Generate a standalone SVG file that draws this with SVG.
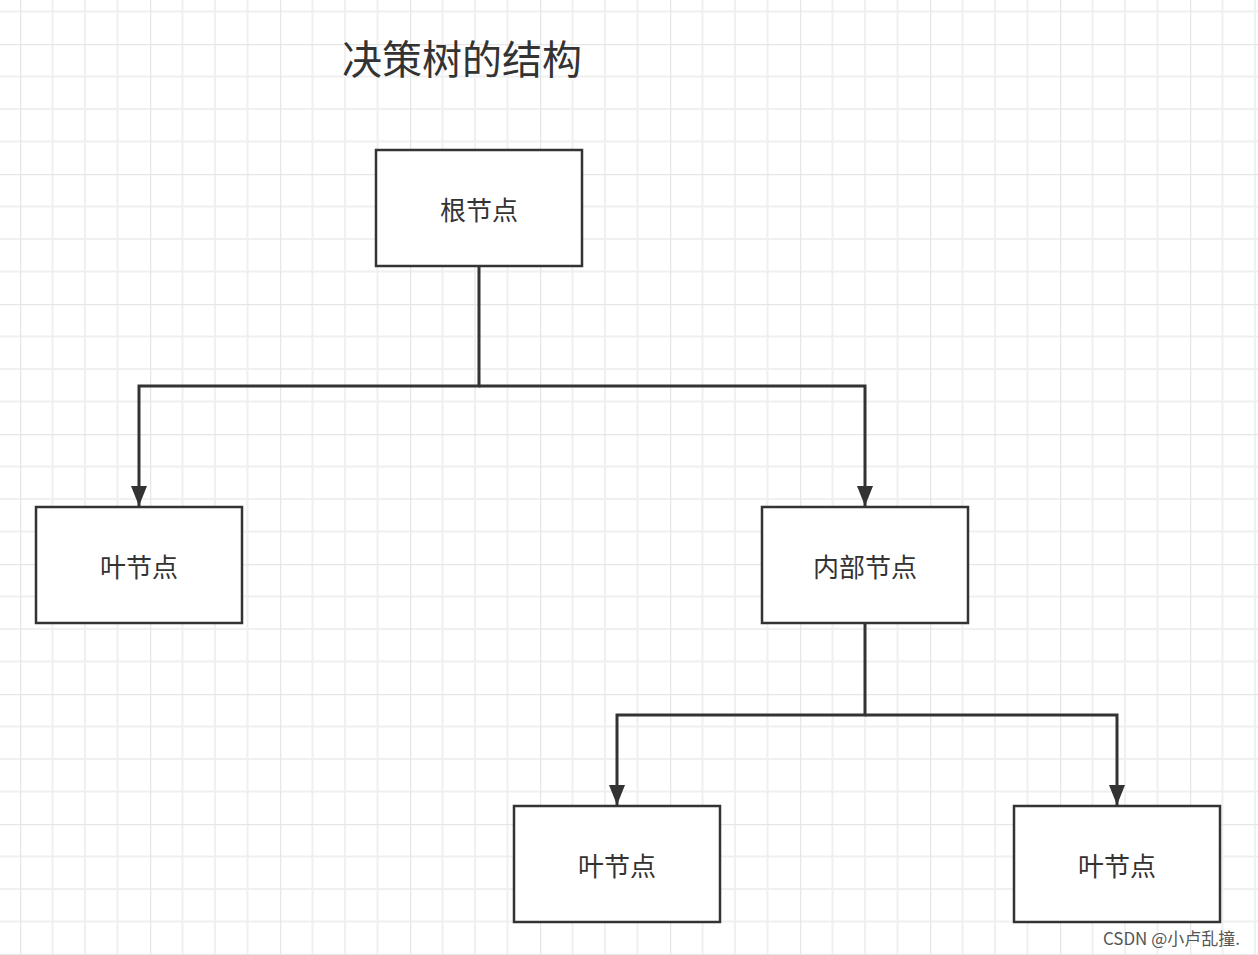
<svg xmlns="http://www.w3.org/2000/svg" width="1258" height="955" viewBox="0 0 1258 955">
<style>
.n{fill:#fff;stroke:#333;stroke-width:2.5}
.t{font-family:"Noto Sans CJK SC","Noto Sans",sans-serif;font-size:26px;fill:#333;text-anchor:middle;dominant-baseline:central}
.c{fill:none;stroke:#333;stroke-width:3}
</style>
<defs>
<pattern id="g" x="20" y="44" width="130" height="130" patternUnits="userSpaceOnUse">
<path d="M32.5 0V130M65 0V130M97.5 0V130M0 32.5H130M0 65H130M0 97.5H130" stroke="#f0f0f0" stroke-width="2" fill="none"/>
<path d="M0 0V130M0 0H130" stroke="#e6e6e6" stroke-width="2.5" fill="none"/>
</pattern>
<marker id="a" markerWidth="8" markerHeight="10" refX="7" refY="5" orient="auto" markerUnits="userSpaceOnUse" viewBox="0 0 8 10"><path d="M0 0L8 5L0 10z" fill="#333"/></marker>
<marker id="b" viewBox="0 0 10 10" refX="10" refY="5" markerWidth="20" markerHeight="20" orient="auto" markerUnits="userSpaceOnUse"><path d="M0 1L10 5L0 9z" fill="#333"/></marker>
</defs>
<rect width="1258" height="955" fill="#fff"/>
<rect width="1258" height="955" fill="url(#g)"/>
<text x="462" y="57" font-family="'Noto Sans CJK SC',sans-serif" font-size="40" fill="#333" text-anchor="middle" dominant-baseline="central">决策树的结构</text>
<g id="connectors">
<path class="c" d="M479 266V386H139V506" marker-end="url(#b)"/>
<path class="c" d="M479 386H865V506" marker-end="url(#b)"/>
<path class="c" d="M865 623V715H617V805" marker-end="url(#b)"/>
<path class="c" d="M865 715H1117V805" marker-end="url(#b)"/>
</g>
<g id="root"><rect class="n" x="376" y="150" width="206" height="116"/><text class="t" x="479" y="208">根节点</text></g>
<g id="leaf1"><rect class="n" x="36" y="507" width="206" height="116"/><text class="t" x="139" y="565">叶节点</text></g>
<g id="internal"><rect class="n" x="762" y="507" width="206" height="116"/><text class="t" x="865" y="565">内部节点</text></g>
<g id="leaf2"><rect class="n" x="514" y="806" width="206" height="116"/><text class="t" x="617" y="864">叶节点</text></g>
<g id="leaf3"><rect class="n" x="1014" y="806" width="206" height="116"/><text class="t" x="1117" y="864">叶节点</text></g>
<text x="1240" y="937" font-family="'Noto Sans CJK SC',sans-serif" font-size="17" fill="#555" text-anchor="end" dominant-baseline="central">CSDN @小卢乱撞.</text>
</svg>
